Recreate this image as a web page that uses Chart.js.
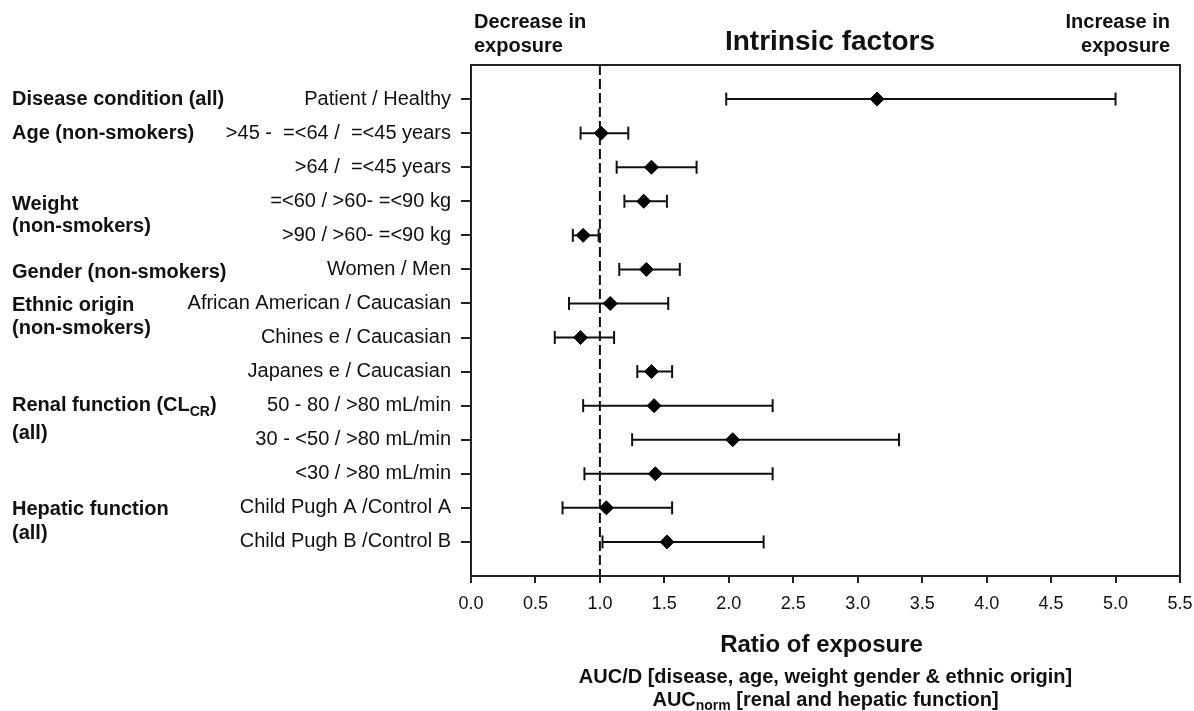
<!DOCTYPE html>
<html>
<head>
<meta charset="utf-8">
<script src="https://cdn.jsdelivr.net/npm/chart.js@4.4.1/dist/chart.umd.min.js"></script>
<style>
  html, body { margin: 0; padding: 0; background: #fff; }
  #wrap { width: 1194px; height: 711px; }
</style>
</head>
<body>
<div id="wrap"><canvas id="myChart"></canvas></div>
<script>
// comparisons, top to bottom
const comparisons = [
  "Patient / Healthy",
  ">45 -  =<64 /  =<45 years",
  ">64 /  =<45 years",
  "=<60 / >60- =<90 kg",
  ">90 / >60- =<90 kg",
  "Women / Men",
  "African American / Caucasian",
  "Chines e / Caucasian",
  "Japanes e / Caucasian",
  "50 - 80 / >80 mL/min",
  "30 - <50 / >80 mL/min",
  "<30 / >80 mL/min",
  "Child Pugh A /Control A",
  "Child Pugh B /Control B"
];
const ratio = [3.15, 1.01, 1.40, 1.34, 0.87, 1.36, 1.08, 0.85, 1.40, 1.42, 2.03, 1.43, 1.05, 1.52];
const lower = [1.98, 0.85, 1.13, 1.19, 0.79, 1.15, 0.76, 0.65, 1.29, 0.87, 1.25, 0.88, 0.71, 1.02];
const upper = [5.00, 1.22, 1.75, 1.52, 0.99, 1.62, 1.53, 1.11, 1.56, 2.34, 3.32, 2.34, 1.56, 2.27];
const refRatio = 1.0;

// group labels on the far left (_{..} = subscript)
const groupLabels = [
  "Disease condition (all)", "Age (non-smokers)", "Weight", "(non-smokers)",
  "Gender (non-smokers)", "Ethnic origin", "(non-smokers)",
  "Renal function (CL_{CR})", "(all)", "Hepatic function", "(all)"
];
const groupRows = [0, 1, 3.08, 3.75, 5.08, 6.07, 6.72, 9.0, 9.83, 12.06, 12.74];

const FONT = "'Liberation Sans', Arial, sans-serif";
const INK = "#111";

function drawRich(ctx, str, x, y, size, align) {
  const segs = str.split(/(_\{[^}]*\})/).filter(Boolean).map(p =>
    p.startsWith("_{") ? { t: p.slice(2, -1), sub: true } : { t: p, sub: false });
  let w = 0;
  segs.forEach(s => {
    ctx.font = "bold " + (s.sub ? Math.round(size * 0.72) : size) + "px " + FONT;
    s.w = ctx.measureText(s.t).width;
    w += s.w;
  });
  let cx = align === "center" ? x - w / 2 : align === "right" ? x - w : x;
  ctx.textAlign = "left";
  ctx.textBaseline = "middle";
  segs.forEach(s => {
    ctx.font = "bold " + (s.sub ? Math.round(size * 0.72) : size) + "px " + FONT;
    ctx.fillText(s.t, cx, s.sub ? y + size * 0.32 : y);
    cx += s.w;
  });
}

const annotations = {
  id: "annotations",
  afterDraw(chart) {
    const { ctx, chartArea: a, scales } = chart;
    ctx.save();
    // frame
    ctx.strokeStyle = "#222";
    ctx.lineWidth = 2;
    ctx.strokeRect(a.left, a.top, a.right - a.left, a.bottom - a.top);
    ctx.fillStyle = INK;
    // group labels
    groupLabels.forEach((g, i) => {
      drawRich(ctx, g, 12, scales.y.getPixelForValue(groupRows[i]), 20, "left");
    });
    // header texts
    drawRich(ctx, "Decrease in", a.left + 3, 22, 20, "left");
    drawRich(ctx, "exposure", a.left + 3, 46, 20, "left");
    drawRich(ctx, "Increase in", a.right - 10, 22, 20, "right");
    drawRich(ctx, "exposure", a.right - 10, 46, 20, "right");
    drawRich(ctx, "Intrinsic factors", 830, 42, 28, "center");
    // x axis titles
    const cx = (a.left + a.right) / 2;
    drawRich(ctx, "Ratio of exposure", cx - 4, 645, 24, "center");
    drawRich(ctx, "AUC/D [disease, age, weight gender & ethnic origin]", cx, 677, 20, "center");
    drawRich(ctx, "AUC_{norm} [renal and hepatic function]", cx, 700, 20, "center");
    ctx.restore();
  }
};

const whiskers = comparisons.map((c, i) => ({
  label: c,
  data: [{ x: lower[i], y: i }, { x: upper[i], y: i }],
  showLine: true,
  borderColor: INK,
  borderWidth: 2,
  pointStyle: "line",
  pointRotation: 90,
  pointRadius: 6.5,
  pointBorderWidth: 2,
  pointBorderColor: INK,
  order: 1
}));

new Chart(document.getElementById("myChart"), {
  type: "scatter",
  data: {
    datasets: [
      {
        label: "Ratio",
        data: ratio.map((r, i) => ({ x: r, y: i })),
        pointStyle: "rectRot",
        pointRadius: 7,
        backgroundColor: "#000",
        borderColor: "#000",
        borderWidth: 1,
        order: 0
      },
      ...whiskers,
      {
        label: "No effect",
        data: [{ x: refRatio, y: -1 }, { x: refRatio, y: 14 }],
        showLine: true,
        borderColor: INK,
        borderWidth: 2,
        borderDash: [10, 4],
        pointRadius: 0,
        order: 2
      }
    ]
  },
  options: {
    responsive: true,
    maintainAspectRatio: false,
    animation: false,
    layout: { padding: { top: 65, right: 14, left: 0, bottom: 0 } },
    plugins: { legend: { display: false }, tooltip: { enabled: false } },
    scales: {
      x: {
        type: "linear",
        min: 0,
        max: 5.5,
        ticks: {
          stepSize: 0.5,
          callback: v => v.toFixed(1),
          font: { family: FONT, size: 18 },
          color: INK,
          padding: 10,
          maxRotation: 0,
          autoSkip: false
        },
        grid: { drawOnChartArea: false, tickLength: 7, color: "#222", lineWidth: 2 },
        border: { display: true, color: "#222", width: 2 },
        afterFit(s) { s.height = 135; s.paddingLeft = 0; s.paddingRight = 0; }
      },
      y: {
        type: "linear",
        min: -1,
        max: 14,
        reverse: true,
        afterBuildTicks(s) { s.ticks = comparisons.map((_, i) => ({ value: i })); },
        ticks: {
          callback: v => comparisons[v] ?? "",
          font: { family: FONT, size: 20 },
          color: INK,
          padding: 10,
          autoSkip: false
        },
        grid: { drawOnChartArea: false, tickLength: 10, color: "#222", lineWidth: 2 },
        border: { display: true, color: "#222", width: 2 },
        afterFit(s) { s.width = 471; s.paddingTop = 0; s.paddingBottom = 0; }
      }
    }
  },
  plugins: [annotations]
});
</script>
</body>
</html>
